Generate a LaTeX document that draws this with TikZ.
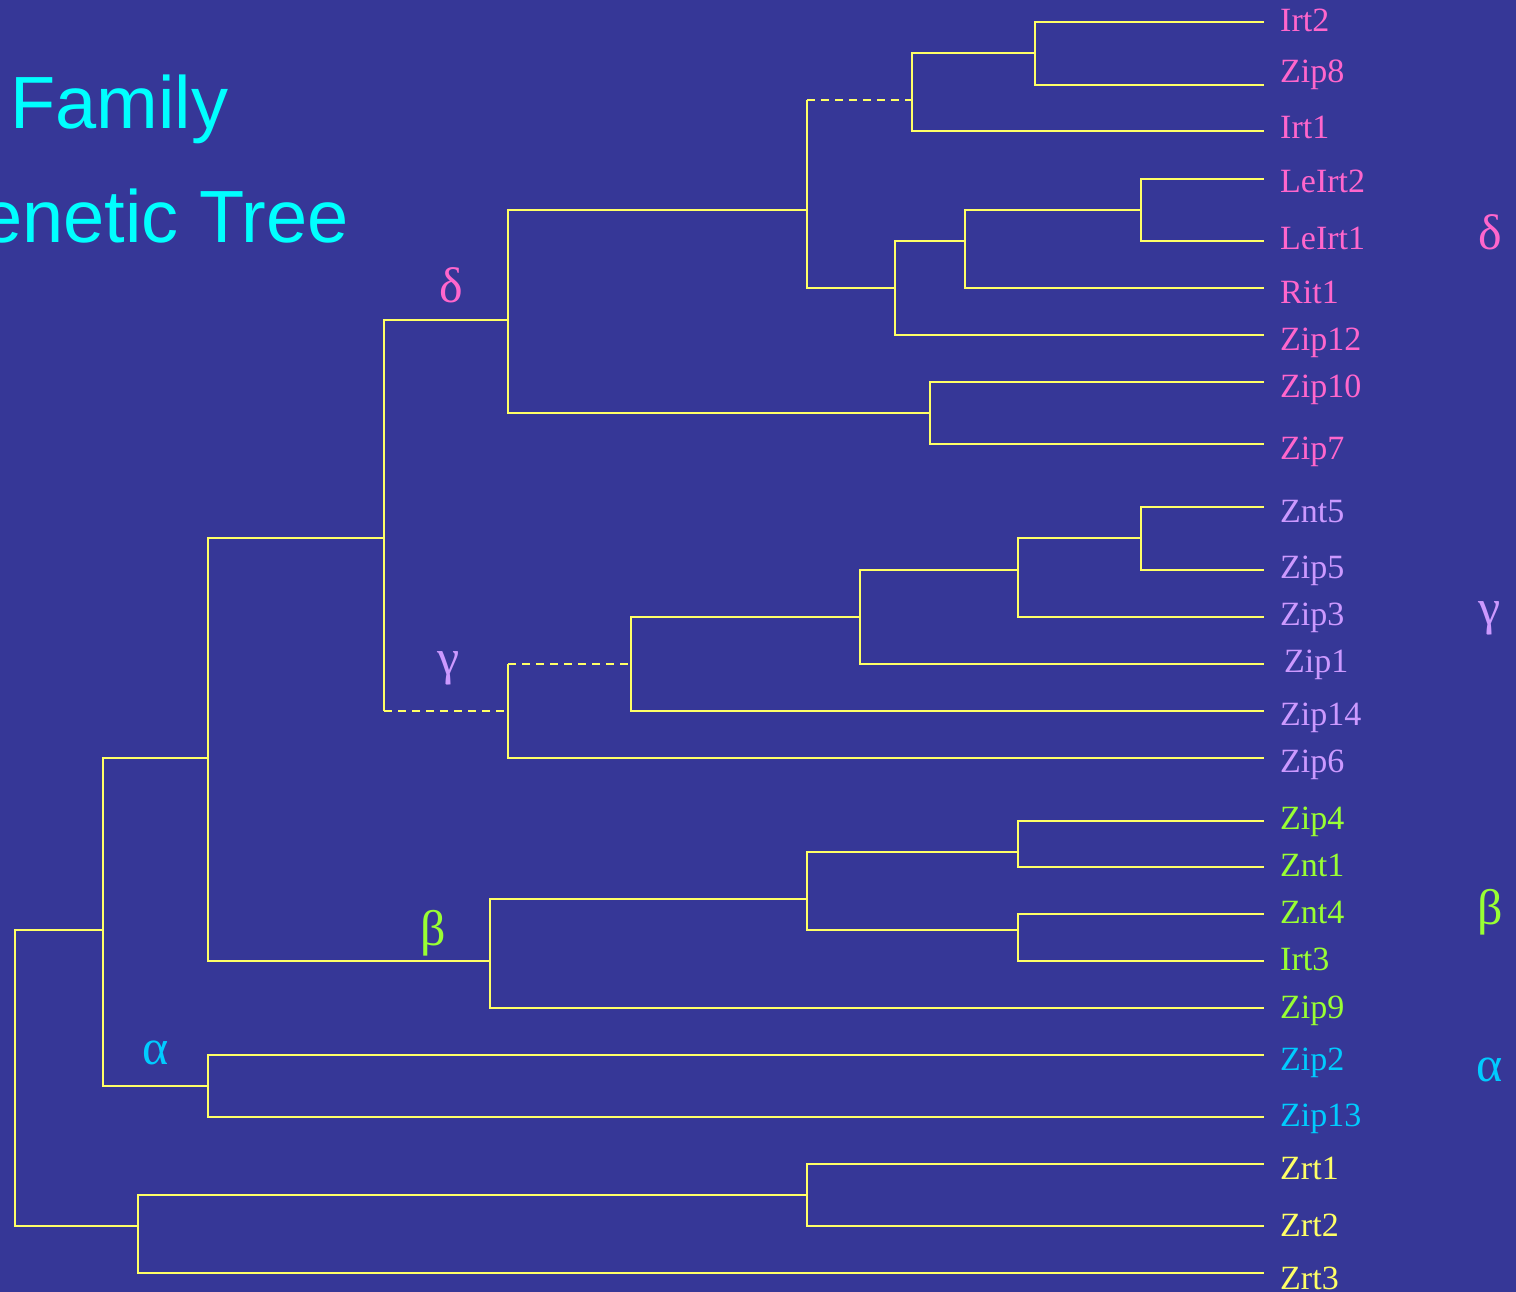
\documentclass[tikz,border=0pt]{standalone}
\usepackage{fontspec}
\setmainfont{Liberation Serif}
\newfontfamily\titlefont{Liberation Sans}
\definecolor{bg}{HTML}{363797}
\definecolor{br}{HTML}{FFFF66}
\definecolor{pk}{HTML}{FF66CC}
\definecolor{lv}{HTML}{CC99FF}
\definecolor{gr}{HTML}{99FF33}
\definecolor{cy}{HTML}{00CCFF}
\definecolor{tt}{HTML}{00FFFF}
\tikzset{
  branch/.style={draw=br, line width=1.8pt},
  dbranch/.style={draw=br, line width=1.8pt, dash pattern=on 8pt off 6pt},
  leaflbl/.style={anchor=base west, inner sep=0pt, font=\fontsize{34}{40}\selectfont},
  greek/.style={inner sep=0pt, font=\fontsize{50}{56}\selectfont},
  titletxt/.style={inner sep=0pt, text=tt, font=\titlefont\fontsize{74}{80}\selectfont}
}
\begin{document}
\begin{tikzpicture}[x=1pt,y=-1pt]
\useasboundingbox (0,0) rectangle (1516,1292);
\fill[bg] (0,0) rectangle (1516,1292);
\clip (0,0) rectangle (1516,1292);

% title
\node[titletxt, anchor=base west] (title1) at (10,129) {Family};
\node[titletxt, anchor=base east] (title2) at (349,243) {enetic Tree};

% leaves: name / y / baseline / colour
\foreach \n/\y/\b/\c in {Irt2/22/32/pk, Zip8/85/83/pk, Irt1/131/139/pk, LeIrt2/179/193/pk,
  LeIrt1/241/250/pk, Rit1/288/303/pk, Zip12/335/350/pk, Zip10/382/397/pk, Zip7/444/459/pk,
  Znt5/507/522/lv, Zip5/570/578/lv, Zip3/617/625/lv, Zip14/711/725/lv, Zip6/758/772/lv,
  Zip4/821/829/gr, Znt1/867/876/gr, Znt4/914/923/gr, Irt3/961/970/gr, Zip9/1008/1018/gr,
  Zip2/1055/1070/cy, Zip13/1117/1126/cy, Zrt1/1164/1179/br, Zrt2/1226/1236/br, Zrt3/1273/1289/br}{
  \coordinate (l-\n) at (1264,\y);
  \node[leaflbl, text=\c] (t-\n) at (1280,\b) {\n};
}
\coordinate (l-Zip1) at (1264,664);
\node[leaflbl, text=lv] (t-Zip1) at (1284,672) {Zip1};

% internal nodes
\coordinate (nA) at (1035,53);
\coordinate (nB) at (912,100);
\coordinate (nC) at (1141,210);
\coordinate (nD) at (965,241);
\coordinate (nE) at (895,288);
\coordinate (nF) at (807,210);
\coordinate (nG) at (930,413);
\coordinate (nH) at (508,320);
\coordinate (nI) at (1141,538);
\coordinate (nJ) at (1018,570);
\coordinate (nK) at (860,617);
\coordinate (nL) at (631,664);
\coordinate (nM) at (508,711);
\coordinate (nN) at (384,538);
\coordinate (nO) at (1018,852);
\coordinate (nP) at (1018,930);
\coordinate (nQ) at (807,899);
\coordinate (nR) at (490,961);
\coordinate (nS) at (208,758);
\coordinate (nT) at (208,1086);
\coordinate (nU) at (103,930);
\coordinate (nV) at (807,1195);
\coordinate (nW) at (138,1226);
\coordinate (nX) at (15,1078);

% solid branches
\foreach \p/\q in {nA/l-Irt2, nA/l-Zip8, nB/nA, nB/l-Irt1, nC/l-LeIrt2, nC/l-LeIrt1,
  nD/nC, nD/l-Rit1, nE/nD, nE/l-Zip12, nF/nE, nG/l-Zip10, nG/l-Zip7, nH/nF, nH/nG,
  nI/l-Znt5, nI/l-Zip5, nJ/nI, nJ/l-Zip3, nK/nJ, nK/l-Zip1, nL/nK, nL/l-Zip14,
  nM/l-Zip6, nN/nH, nO/l-Zip4, nO/l-Znt1, nP/l-Znt4, nP/l-Irt3, nQ/nO, nQ/nP,
  nR/nQ, nR/l-Zip9, nS/nN, nS/nR, nT/l-Zip2, nT/l-Zip13, nU/nS, nU/nT,
  nV/l-Zrt1, nV/l-Zrt2, nW/nV, nW/l-Zrt3, nX/nU, nX/nW}{
  \draw[branch] (\p) |- (\q);
}
% dashed branches (vertical part solid)
\foreach \p/\q in {nF/nB, nN/nM, nM/nL}{
  \draw[branch] (\p) -- (\p |- \q);
  \draw[dbranch] (\p |- \q) -- (\q);
}

% clade labels in the tree
\node[greek, text=pk, anchor=south] (gd) at (451,303) {δ};
\node[greek, text=lv, anchor=center] (gg) at (449,668) {γ};
\node[greek, text=gr, anchor=center] (gb) at (433,933) {β};
\node[greek, text=cy, anchor=center] (ga) at (156,1053) {α};

% clade labels on the right
\node[greek, text=pk, anchor=center] (rd) at (1490,232) {δ};
\node[greek, text=lv, anchor=center] (rg) at (1490,618) {γ};
\node[greek, text=gr, anchor=center] (rb) at (1490,912) {β};
\node[greek, text=cy, anchor=center] (ra) at (1490,1070) {α};
\end{tikzpicture}
\end{document}
